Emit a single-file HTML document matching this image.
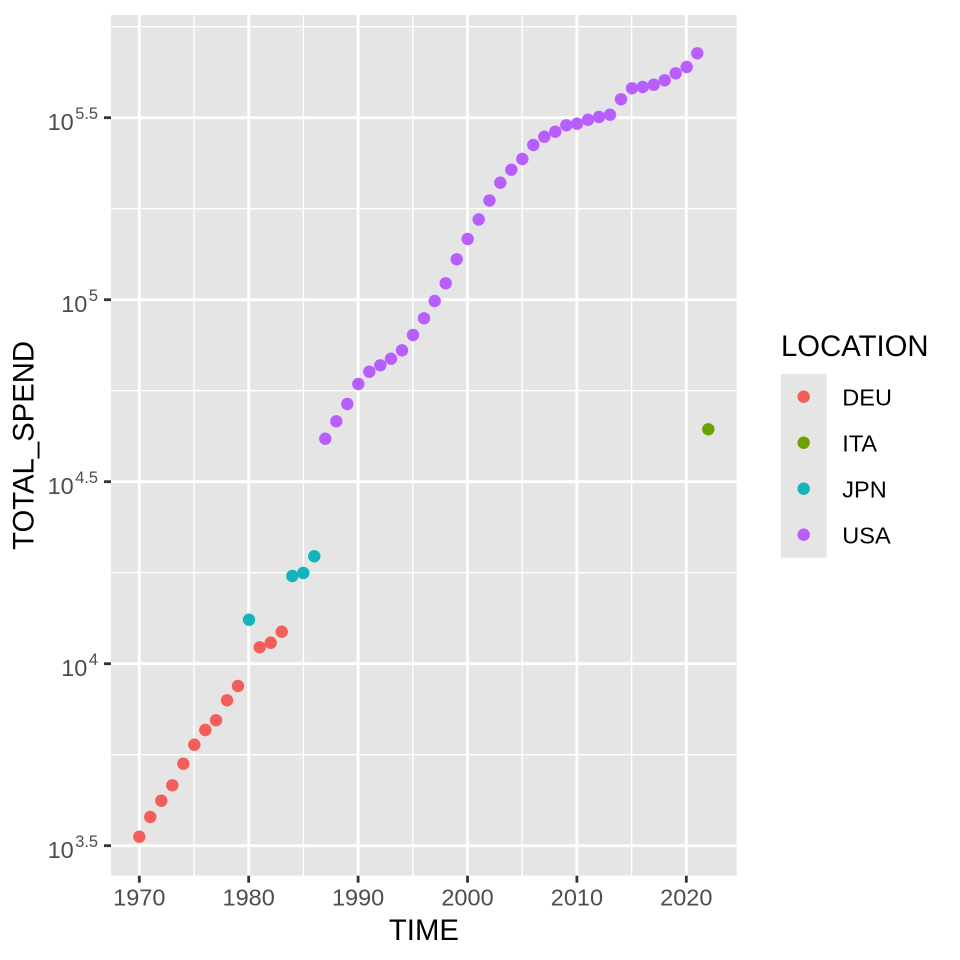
<!DOCTYPE html>
<html><head><meta charset="utf-8"><style>
html,body{margin:0;padding:0;background:#fff;}
svg{display:block;font-family:"Liberation Sans",Arial,sans-serif;}
</style></head><body>
<svg width="960" height="960" viewBox="0 0 960 960" xmlns="http://www.w3.org/2000/svg">
<rect x="0" y="0" width="960" height="960" fill="#fff"/>
<rect x="111" y="15" width="625.7" height="860.7" fill="#E5E5E5"/>
<g stroke="#fff" stroke-width="1.4">
<line x1="111" x2="736.7" y1="754.7" y2="754.7"/>
<line x1="111" x2="736.7" y1="572.7" y2="572.7"/>
<line x1="111" x2="736.7" y1="390.7" y2="390.7"/>
<line x1="111" x2="736.7" y1="208.7" y2="208.7"/>
<line x1="111" x2="736.7" y1="26.7" y2="26.7"/>
<line y1="15" y2="875.7" x1="194" x2="194"/>
<line y1="15" y2="875.7" x1="303.4" x2="303.4"/>
<line y1="15" y2="875.7" x1="412.8" x2="412.8"/>
<line y1="15" y2="875.7" x1="522.2" x2="522.2"/>
<line y1="15" y2="875.7" x1="631.6" x2="631.6"/>
</g>
<g stroke="#fff" stroke-width="2.8">
<line x1="111" x2="736.7" y1="845.7" y2="845.7"/>
<line x1="111" x2="736.7" y1="663.7" y2="663.7"/>
<line x1="111" x2="736.7" y1="481.7" y2="481.7"/>
<line x1="111" x2="736.7" y1="299.7" y2="299.7"/>
<line x1="111" x2="736.7" y1="117.7" y2="117.7"/>
<line y1="15" y2="875.7" x1="139.3" x2="139.3"/>
<line y1="15" y2="875.7" x1="248.7" x2="248.7"/>
<line y1="15" y2="875.7" x1="358.1" x2="358.1"/>
<line y1="15" y2="875.7" x1="467.5" x2="467.5"/>
<line y1="15" y2="875.7" x1="576.9" x2="576.9"/>
<line y1="15" y2="875.7" x1="686.3" x2="686.3"/>
</g>
<!-- DEU -->
<g fill="#F35E5A">
<circle cx="139.3" cy="836.7" r="6.2"/>
<circle cx="150.3" cy="817" r="6.2"/>
<circle cx="161.3" cy="800.7" r="6.2"/>
<circle cx="172.3" cy="785.3" r="6.2"/>
<circle cx="183.3" cy="763.7" r="6.2"/>
<circle cx="194.3" cy="744.7" r="6.2"/>
<circle cx="205.3" cy="730" r="6.2"/>
<circle cx="216.1" cy="720.3" r="6.2"/>
<circle cx="227" cy="700.3" r="6.2"/>
<circle cx="238" cy="686" r="6.2"/>
<circle cx="259.7" cy="647.3" r="6.2"/>
<circle cx="270.7" cy="642.7" r="6.2"/>
<circle cx="281.7" cy="631.7" r="6.2"/>
</g>
<!-- JPN -->
<g fill="#14B4BA">
<circle cx="249" cy="619.7" r="6.2"/>
<circle cx="292.3" cy="576" r="6.2"/>
<circle cx="303.3" cy="573" r="6.2"/>
<circle cx="314.3" cy="556.3" r="6.2"/>
</g>
<!-- USA -->
<g fill="#B85EFF">
<circle cx="325.3" cy="438.7" r="6.2"/>
<circle cx="336.3" cy="421.3" r="6.2"/>
<circle cx="347.3" cy="404" r="6.2"/>
<circle cx="358.3" cy="384" r="6.2"/>
<circle cx="369.3" cy="371.7" r="6.2"/>
<circle cx="380.3" cy="365.3" r="6.2"/>
<circle cx="391" cy="358.7" r="6.2"/>
<circle cx="402" cy="350.3" r="6.2"/>
<circle cx="413" cy="335" r="6.2"/>
<circle cx="424" cy="318.3" r="6.2"/>
<circle cx="434.7" cy="301" r="6.2"/>
<circle cx="445.7" cy="283.3" r="6.2"/>
<circle cx="456.7" cy="259.3" r="6.2"/>
<circle cx="467.7" cy="239" r="6.2"/>
<circle cx="478.7" cy="219.5" r="6.2"/>
<circle cx="489.5" cy="200.5" r="6.2"/>
<circle cx="500.3" cy="182.7" r="6.2"/>
<circle cx="511.3" cy="169.7" r="6.2"/>
<circle cx="522.3" cy="159" r="6.2"/>
<circle cx="533.3" cy="145" r="6.2"/>
<circle cx="544.3" cy="136.7" r="6.2"/>
<circle cx="555.3" cy="131.7" r="6.2"/>
<circle cx="566.3" cy="125.3" r="6.2"/>
<circle cx="577" cy="123.7" r="6.2"/>
<circle cx="588" cy="119.7" r="6.2"/>
<circle cx="599" cy="117" r="6.2"/>
<circle cx="610" cy="114.7" r="6.2"/>
<circle cx="621" cy="99.3" r="6.2"/>
<circle cx="632" cy="88.3" r="6.2"/>
<circle cx="642.7" cy="87" r="6.2"/>
<circle cx="653.7" cy="84.7" r="6.2"/>
<circle cx="664.7" cy="80.3" r="6.2"/>
<circle cx="675.7" cy="73.3" r="6.2"/>
<circle cx="686.7" cy="67" r="6.2"/>
<circle cx="697.3" cy="53.3" r="6.2"/>
</g>
<!-- ITA -->
<circle cx="708.3" cy="429.3" r="6.2" fill="#6BA200"/>

<!-- axis ticks -->
<g stroke="#333" stroke-width="2.8">
<line x1="104" x2="111" y1="845.7" y2="845.7"/>
<line x1="104" x2="111" y1="663.7" y2="663.7"/>
<line x1="104" x2="111" y1="481.7" y2="481.7"/>
<line x1="104" x2="111" y1="299.7" y2="299.7"/>
<line x1="104" x2="111" y1="117.7" y2="117.7"/>
<line y1="875.7" y2="882.7" x1="139.3" x2="139.3"/>
<line y1="875.7" y2="882.7" x1="248.7" x2="248.7"/>
<line y1="875.7" y2="882.7" x1="358.1" x2="358.1"/>
<line y1="875.7" y2="882.7" x1="467.5" x2="467.5"/>
<line y1="875.7" y2="882.7" x1="576.9" x2="576.9"/>
<line y1="875.7" y2="882.7" x1="686.3" x2="686.3"/>
</g>
<!-- y tick labels -->
<g fill="#4D4D4D" font-size="23.5" text-anchor="end">
<text x="98" y="858.2">10<tspan dx="1.5" dy="-11" font-size="16.4">3.5</tspan></text>
<text x="98" y="676.2">10<tspan dx="1.5" dy="-11" font-size="16.4">4</tspan></text>
<text x="98" y="494.2">10<tspan dx="1.5" dy="-11" font-size="16.4">4.5</tspan></text>
<text x="98" y="312.2">10<tspan dx="1.5" dy="-11" font-size="16.4">5</tspan></text>
<text x="98" y="130.2">10<tspan dx="1.5" dy="-11" font-size="16.4">5.5</tspan></text>
</g>
<!-- x tick labels -->
<g fill="#4D4D4D" font-size="23.5" text-anchor="middle">
<text x="139.3" y="905.7">1970</text>
<text x="248.7" y="905.7">1980</text>
<text x="358.1" y="905.7">1990</text>
<text x="467.5" y="905.7">2000</text>
<text x="576.9" y="905.7">2010</text>
<text x="686.3" y="905.7">2020</text>
</g>
<!-- axis titles -->
<text x="423.9" y="940" font-size="29.3" text-anchor="middle" fill="#000">TIME</text>
<text transform="translate(33.5,445.4) rotate(-90)" font-size="29.3" text-anchor="middle" fill="#000">TOTAL_SPEND</text>

<!-- legend -->
<text x="781" y="356" font-size="29.3" fill="#000">LOCATION</text>
<rect x="781" y="374" width="45.7" height="183.7" fill="#E5E5E5"/>
<circle cx="803.7" cy="396.7" r="6.2" fill="#F35E5A"/>
<circle cx="803.7" cy="442.7" r="6.2" fill="#6BA200"/>
<circle cx="803.7" cy="488.7" r="6.2" fill="#14B4BA"/>
<circle cx="803.7" cy="534.7" r="6.2" fill="#B85EFF"/>
<g font-size="23.5" fill="#000">
<text x="842.3" y="405.3">DEU</text>
<text x="842.3" y="451.3">ITA</text>
<text x="842.3" y="497.3">JPN</text>
<text x="842.3" y="543.3">USA</text>
</g>
</svg>
</body></html>
